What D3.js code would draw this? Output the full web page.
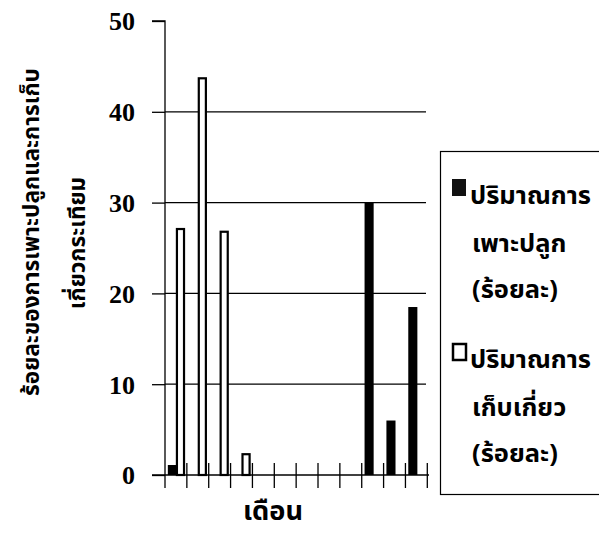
<!DOCTYPE html>
<html><head><meta charset="utf-8">
<script src="https://cdn.jsdelivr.net/npm/d3@7"></script>
<style>body{margin:0;background:#fff}svg{display:block}</style>
</head><body>
<script>
const months = ["ม.ค.","ก.พ.","มี.ค.","เม.ย.","พ.ค.","มิ.ย.","ก.ค.","ส.ค.","ก.ย.","ต.ค.","พ.ย.","ธ.ค."];
const planting = [1.1, 0, 0, 0, 0, 0, 0, 0, 0, 30, 6, 18.5];
const harvest = [27.2, 43.8, 26.9, 2.4, 0, 0, 0, 0, 0, 0, 0, 0];
const yTicks = [0, 10, 20, 30, 40, 50];
const seriesNames = ["ปริมาณการเพาะปลูก (ร้อยละ)", "ปริมาณการเก็บเกี่ยว (ร้อยละ)"];
const legendLines = [["ปริมาณการ","เพาะปลูก","(ร้อยละ)"],["ปริมาณการ","เก็บเกี่ยว","(ร้อยละ)"]];
const yTitleLines = ["ร้อยละของการเพาะปลูกและการเก็บ", "เกี่ยวกระเทียม"];
const xTitle = "เดือน";

const W = 599, H = 535;
const thai = "'Noto Sans Thai','Loma','Garuda','Tlwg Typo','DejaVu Sans',sans-serif";
const svg = d3.select("body").append("svg").attr("width", W).attr("height", H);

// size a text so its natural width matches a target width; returns the size
function fit(sel, target, maxSize) {
  sel.attr("font-size", 20);
  const w = sel.node().getComputedTextLength();
  const s = Math.min(maxSize, 20 * target / w);
  sel.attr("font-size", s);
  return s;
}

const x0 = d3.scaleBand().domain(months).range([165, 427.3]).padding(0);
const x1 = d3.scaleBand().domain([0, 1]).range([0, x0.bandwidth()]).paddingOuter(0.35).paddingInner(0);
const y = d3.scaleLinear().domain([0, 50]).range([475, 21]);

// gridlines
svg.append("g").selectAll("line").data(yTicks.filter(v => v > 0 && v < 50)).join("line")
  .attr("x1", 165).attr("x2", 426).attr("y1", d => y(d)).attr("y2", d => y(d))
  .attr("stroke", "#000").attr("stroke-width", 1.3);

// bars
const data = months.map((m, i) => ({m, vals: [planting[i], harvest[i]]}));
const g = svg.append("g");
data.forEach(d => {
  d.vals.forEach((v, s) => {
    if (v <= 0) return;
    const bx = x0(d.m) + x1(s), bw = x1.bandwidth();
    if (s === 0) {
      g.append("rect").attr("x", bx).attr("y", y(v)).attr("width", bw + 1).attr("height", y(0) - y(v)).attr("fill", "#000");
    } else {
      g.append("rect").attr("x", bx + 1).attr("y", y(v) + 1).attr("width", bw - 1).attr("height", y(0) - y(v) - 1)
        .attr("fill", "#fff").attr("stroke", "#000").attr("stroke-width", 2.2);
    }
  });
});

// y axis
const yAxis = svg.append("g").attr("transform", "translate(165,0)")
  .call(d3.axisLeft(y).tickValues(yTicks).tickSize(13).tickPadding(17));
yAxis.select(".domain").attr("d", `M-13,${y(50)}H0V${y(0)}`).attr("stroke-width", 1.3);
yAxis.selectAll(".tick line").attr("stroke-width", 1.3);
yAxis.selectAll("text").attr("font-family", "'Liberation Serif','Times New Roman',serif")
  .attr("font-weight", "bold").attr("font-size", 26).attr("fill", "#000").attr("dy", "0.34em");

// x axis
const xb = svg.append("g");
xb.append("line").attr("x1", 152).attr("x2", 429).attr("y1", y(0)).attr("y2", y(0)).attr("stroke", "#000").attr("stroke-width", 1.3);
const bounds = months.map(m => x0(m)).concat([x0(months[months.length - 1]) + x0.bandwidth()]);
xb.selectAll("line.t").data(bounds).join("line").attr("class", "t")
  .attr("x1", d => d).attr("x2", d => d).attr("y1", (d, i) => i === 0 ? y(0) : y(0) - 12).attr("y2", y(0) + 13)
  .attr("stroke", "#000").attr("stroke-width", 1.3);

// titles
const yt = svg.append("g").attr("font-family", thai).attr("font-weight", "bold").attr("fill", "#000");
const ys = fit(yt.append("text").attr("transform", "translate(39,232) rotate(-90)").attr("text-anchor", "middle").text(yTitleLines[0]), 328, 28);
yt.append("text").attr("transform", "translate(85,243) rotate(-90)").attr("text-anchor", "middle").attr("font-size", ys).text(yTitleLines[1]);

fit(svg.append("text").attr("x", 273).attr("y", 520).attr("text-anchor", "middle")
  .attr("font-family", thai).attr("font-weight", "bold").text(xTitle), 60, 28);

// legend
const lg = svg.append("g");
lg.append("rect").attr("x", 440.5).attr("y", 151.5).attr("width", 200).attr("height", 343)
  .attr("fill", "none").attr("stroke", "#000").attr("stroke-width", 1.2);
const legendY = [179, 343];
const baseOff = [25, 73, 119];
let ls = null;
seriesNames.forEach((name, s) => {
  const sy = legendY[s];
  if (s === 0) lg.append("rect").attr("x", 452).attr("y", sy).attr("width", 14).attr("height", 17).attr("fill", "#111");
  else lg.append("rect").attr("x", 453).attr("y", sy + 1).attr("width", 13).attr("height", 16).attr("fill", "#fff").attr("stroke", "#000").attr("stroke-width", 2.5);
  legendLines[s].forEach((t, k) => {
    const txt = lg.append("text").attr("x", k === 0 ? 470 : 472).attr("y", sy + baseOff[k])
      .attr("font-family", thai).attr("font-weight", "bold").attr("fill", "#000").text(t);
    if (ls === null) ls = fit(txt, 121, 26);
    else txt.attr("font-size", ls);
  });
});
</script>
</body></html>
